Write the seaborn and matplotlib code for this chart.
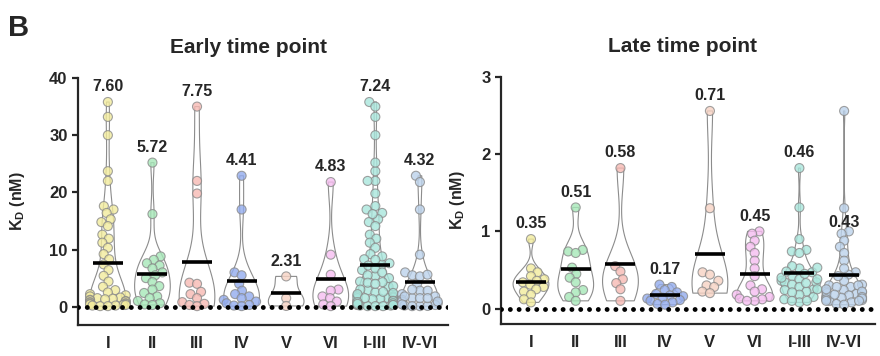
import numpy as np
import pandas as pd
import matplotlib
matplotlib.use("Agg")
import matplotlib.pyplot as plt
import seaborn as sns
import warnings
warnings.filterwarnings("ignore")

# ---------------- data ----------------
groups = ["I", "II", "III", "IV", "V", "VI", "I-III", "IV-VI"]
colors = ["#f2eb9c", "#a6e8b8", "#f7b9b3", "#93acee",
          "#f7d3c4", "#f6bdf0", "#a9e6dc", "#bcd3ec"]

early_I = [35.8, 33.2, 30.0, 23.7, 22.0, 17.6, 17.0, 16.4, 15.3, 14.8, 14.1,
           12.6, 11.9, 11.2, 10.3, 9.2, 8.3, 7.4, 6.4, 5.4, 4.4, 3.5, 2.9,
           2.5, 2.2, 2.0, 1.8, 1.6, 1.5, 1.4, 1.3, 1.2, 1.1, 1.0, 0.9, 0.8,
           0.7, 0.6, 0.5, 0.5, 0.4, 0.3, 0.3, 0.2, 0.2, 0.1, 0.1]
early_II = [25.2, 16.2, 8.8, 8.2, 7.6, 7.2, 6.7, 6.0, 5.5, 5.0, 4.3, 3.6,
            3.0, 2.4, 1.8, 1.5, 1.0, 0.6, 0.4, 0.3]
early_III = [35.0, 22.0, 19.8, 4.2, 4.0, 2.6, 2.2, 1.5, 0.8, 0.5, 0.3, 0.1]
early_IV = [22.9, 17.0, 6.0, 5.5, 4.0, 2.8, 2.2, 1.8, 1.5, 1.2, 0.9, 0.6,
            0.3, 0.2, 0.1]
early_V = [5.3, 1.5, 0.13]
early_VI = [21.8, 9.1, 5.6, 3.0, 2.8, 1.8, 1.5, 0.9, 0.4, 0.1]
early_I_III = early_I + early_II + early_III
early_IV_VI = early_IV + early_V + early_VI

late_I = [0.90, 0.52, 0.47, 0.42, 0.38, 0.36, 0.34, 0.31, 0.28, 0.25, 0.22,
          0.18, 0.12, 0.08]
late_II = [1.31, 0.76, 0.74, 0.72, 0.53, 0.45, 0.40, 0.34, 0.24, 0.21, 0.15,
           0.10]
late_III = [1.82, 0.55, 0.48, 0.38, 0.33, 0.25, 0.10]
late_IV = [0.31, 0.28, 0.24, 0.21, 0.19, 0.17, 0.16, 0.14, 0.13, 0.11, 0.10,
           0.08, 0.06, 0.05]
late_V = [2.56, 1.30, 0.47, 0.44, 0.36, 0.30, 0.28, 0.22, 0.20]
late_VI = [1.00, 0.97, 0.88, 0.80, 0.72, 0.62, 0.52, 0.42, 0.30, 0.25, 0.22,
           0.18, 0.15, 0.13, 0.12, 0.10, 0.10]
late_I_III = late_I + late_II + late_III
late_IV_VI = late_IV + late_V + late_VI

early_means = [7.60, 5.72, 7.75, 4.41, 2.31, 4.83, 7.24, 4.32]
late_means = [0.35, 0.51, 0.58, 0.17, 0.71, 0.45, 0.46, 0.43]

early_yticks = [0, 10, 20, 30, 40]
late_yticks = [0, 1, 2, 3]

# ---------------- style ----------------
sns.set_style("ticks")
plt.rcParams["font.family"] = ["Liberation Sans", "DejaVu Sans"]
plt.rcParams["font.weight"] = "bold"
plt.rcParams["mathtext.default"] = "regular"

fig = plt.figure(figsize=(8.8, 3.56), dpi=100)
ax1 = fig.add_axes([78 / 880, 1 - 325 / 356, 370 / 880, 247 / 356])
ax2 = fig.add_axes([501 / 880, 1 - 324 / 356, 374 / 880, 247 / 356])

swarm_collections = []


def panel(ax, data_lists, means, ylim, xlim, yticks, title, title_x,
          ylabel_x, label_anchor_override=None):
    df = pd.DataFrame({
        "group": np.repeat(groups, [len(d) for d in data_lists]),
        "value": np.concatenate(data_lists),
    })
    sns.violinplot(data=df, x="group", y="value", order=groups, ax=ax,
                   fill=False, color="#8c8c8c", linewidth=0.8, inner=None,
                   cut=0, density_norm="width", width=0.8, bw_adjust=0.8)
    n0 = len(ax.collections)
    # swarm laid out with a smaller marker, then markers enlarged (overlapping
    # points, like the reference)
    sns.swarmplot(data=df, x="group", y="value", hue="group", order=groups,
                  hue_order=groups, palette=colors, ax=ax, size=4.5,
                  edgecolor="#8a8a8a", linewidth=0.8, alpha=0.8,
                  legend=False, zorder=3)
    swarm_collections.extend(ax.collections[n0:])
    sns.pointplot(x=groups, y=means, order=groups, ax=ax, color="black",
                  linestyle="none", marker="_", markersize=21,
                  markeredgewidth=2.6, errorbar=None, zorder=6)
    ax.axhline(0, color="black", lw=3.5, linestyle=(0, (0.01, 1.8)),
               dash_capstyle="round", zorder=5)
    for i, (g, m) in enumerate(zip(groups, means)):
        anchor = max(data_lists[i])
        if label_anchor_override and g in label_anchor_override:
            anchor = label_anchor_override[g]
        ax.annotate(f"{m:.2f}", (i, anchor), xytext=(0, 11),
                    textcoords="offset points", ha="center", va="center",
                    fontsize=11.5, fontweight="bold", zorder=7)
    ax.set_ylim(*ylim)
    ax.set_xlim(*xlim)
    ax.set_yticks(yticks)
    ax.set_xlabel("")
    ax.set_ylabel(r"K$_{D}$ (nM)", fontsize=11.5, fontweight="bold")
    ax.yaxis.set_label_coords(ylabel_x, 0.5)
    ax.set_title(title, x=title_x, pad=18, fontsize=15, fontweight="bold")
    sns.despine(ax=ax)
    ax.spines["left"].set_linewidth(1.6)
    ax.spines["bottom"].set_linewidth(1.6)
    ax.tick_params(axis="y", width=1.6, length=4.5, pad=3, labelsize=12)
    ax.tick_params(axis="x", length=0, pad=8, labelsize=12)
    for lab in ax.get_xticklabels() + ax.get_yticklabels():
        lab.set_fontweight("bold")


panel(ax1,
      [early_I, early_II, early_III, early_IV, early_V, early_VI,
       early_I_III, early_IV_VI],
      early_means, (-3.2, 40), (-0.67, 7.63), early_yticks,
      "Early time point", 0.46, -0.138)
panel(ax2,
      [late_I, late_II, late_III, late_IV, late_V, late_VI,
       late_I_III, late_IV_VI],
      late_means, (-0.2, 3), (-0.67, 7.69), late_yticks,
      "Late time point", 0.484, -0.091,
      label_anchor_override={"IV-VI": 0.92})

fig.text(8 / 880, 1 - 14 / 356, "B", fontsize=21, fontweight="bold",
         va="top", ha="left")

# lay the swarms out once, freeze positions, then enlarge the markers
fig.canvas.draw()
for c in swarm_collections:
    if "draw" in c.__dict__:
        del c.__dict__["draw"]
    c.set_sizes([6.5 ** 2])

fig.savefig("out.png", dpi=100)
